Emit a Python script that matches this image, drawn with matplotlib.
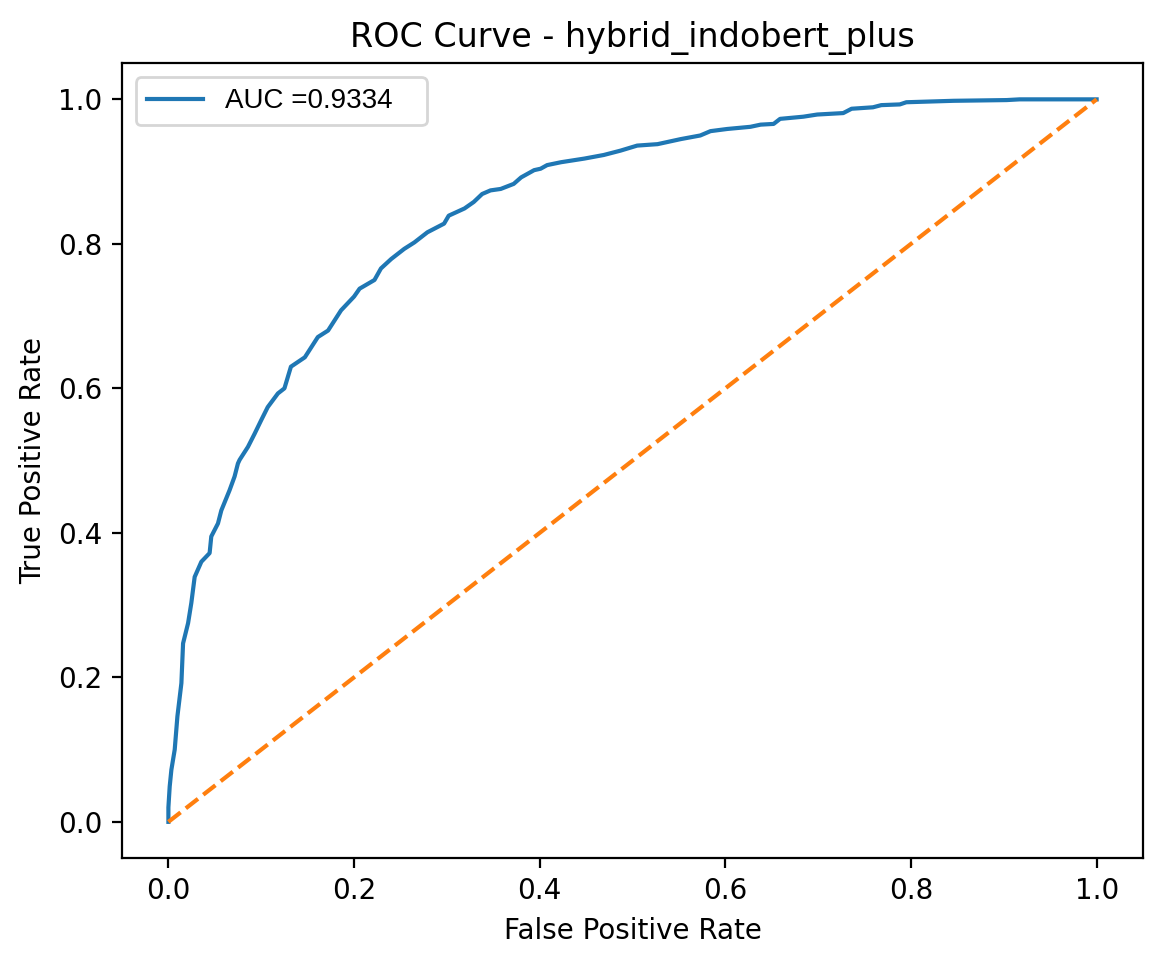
import numpy as np
import matplotlib.pyplot as plt

# ----------------------------
# ROC points
# ----------------------------
fpr = [0.0, 0.0, 0.0014, 0.0032, 0.0068, 0.0097, 0.014, 0.0158, 0.0212, 0.0247,
       0.0283, 0.0355, 0.0444, 0.0462, 0.0534, 0.057, 0.0659, 0.0713, 0.0749,
       0.0767, 0.0857, 0.0928, 0.100, 0.107, 0.118, 0.125, 0.132, 0.147, 0.161,
       0.172, 0.186, 0.200, 0.206, 0.222, 0.229, 0.240, 0.254, 0.265, 0.279,
       0.297, 0.302, 0.319, 0.329, 0.338, 0.347, 0.358, 0.372, 0.380, 0.394,
       0.401, 0.408, 0.423, 0.448, 0.469, 0.487, 0.505, 0.527, 0.552, 0.573,
       0.584, 0.602, 0.627, 0.638, 0.652, 0.659, 0.684, 0.699, 0.727, 0.736,
       0.759, 0.768, 0.788, 0.795, 0.846, 0.903, 0.917, 1.0]
tpr = [0.0, 0.02, 0.049, 0.072, 0.100, 0.146, 0.192, 0.247, 0.275, 0.303,
       0.339, 0.360, 0.372, 0.395, 0.413, 0.431, 0.459, 0.478, 0.496,
       0.501, 0.519, 0.537, 0.556, 0.574, 0.593, 0.600, 0.630, 0.643, 0.671,
       0.680, 0.708, 0.727, 0.738, 0.750, 0.766, 0.779, 0.793, 0.802, 0.816,
       0.828, 0.839, 0.849, 0.858, 0.869, 0.874, 0.876, 0.883, 0.892, 0.902,
       0.904, 0.909, 0.913, 0.918, 0.923, 0.929, 0.936, 0.938, 0.945, 0.950,
       0.956, 0.959, 0.962, 0.965, 0.966, 0.973, 0.976, 0.979, 0.981, 0.987,
       0.989, 0.992, 0.993, 0.996, 0.998, 0.999, 1.0, 1.0]
auc_score = 0.9334
model_name = "hybrid_indobert_plus"

# ----------------------------
# Plot
# ----------------------------
fig = plt.figure(figsize=(5.82, 4.79), dpi=200)
ax = fig.add_axes([0.1048, 0.1044, 0.8772, 0.8296])

ax.plot(fpr, tpr, label="AUC =" + f"{auc_score:.4f}" + "   ")
ax.plot([0, 1], [0, 1], linestyle="--")

ax.set_title(f"ROC Curve - {model_name}")
ax.set_xlabel("False Positive Rate")
ax.set_ylabel("True Positive Rate")
ax.legend(loc="upper left", prop={"family": "Liberation Sans", "size": 10})

fig.savefig("out.png", dpi=200)
